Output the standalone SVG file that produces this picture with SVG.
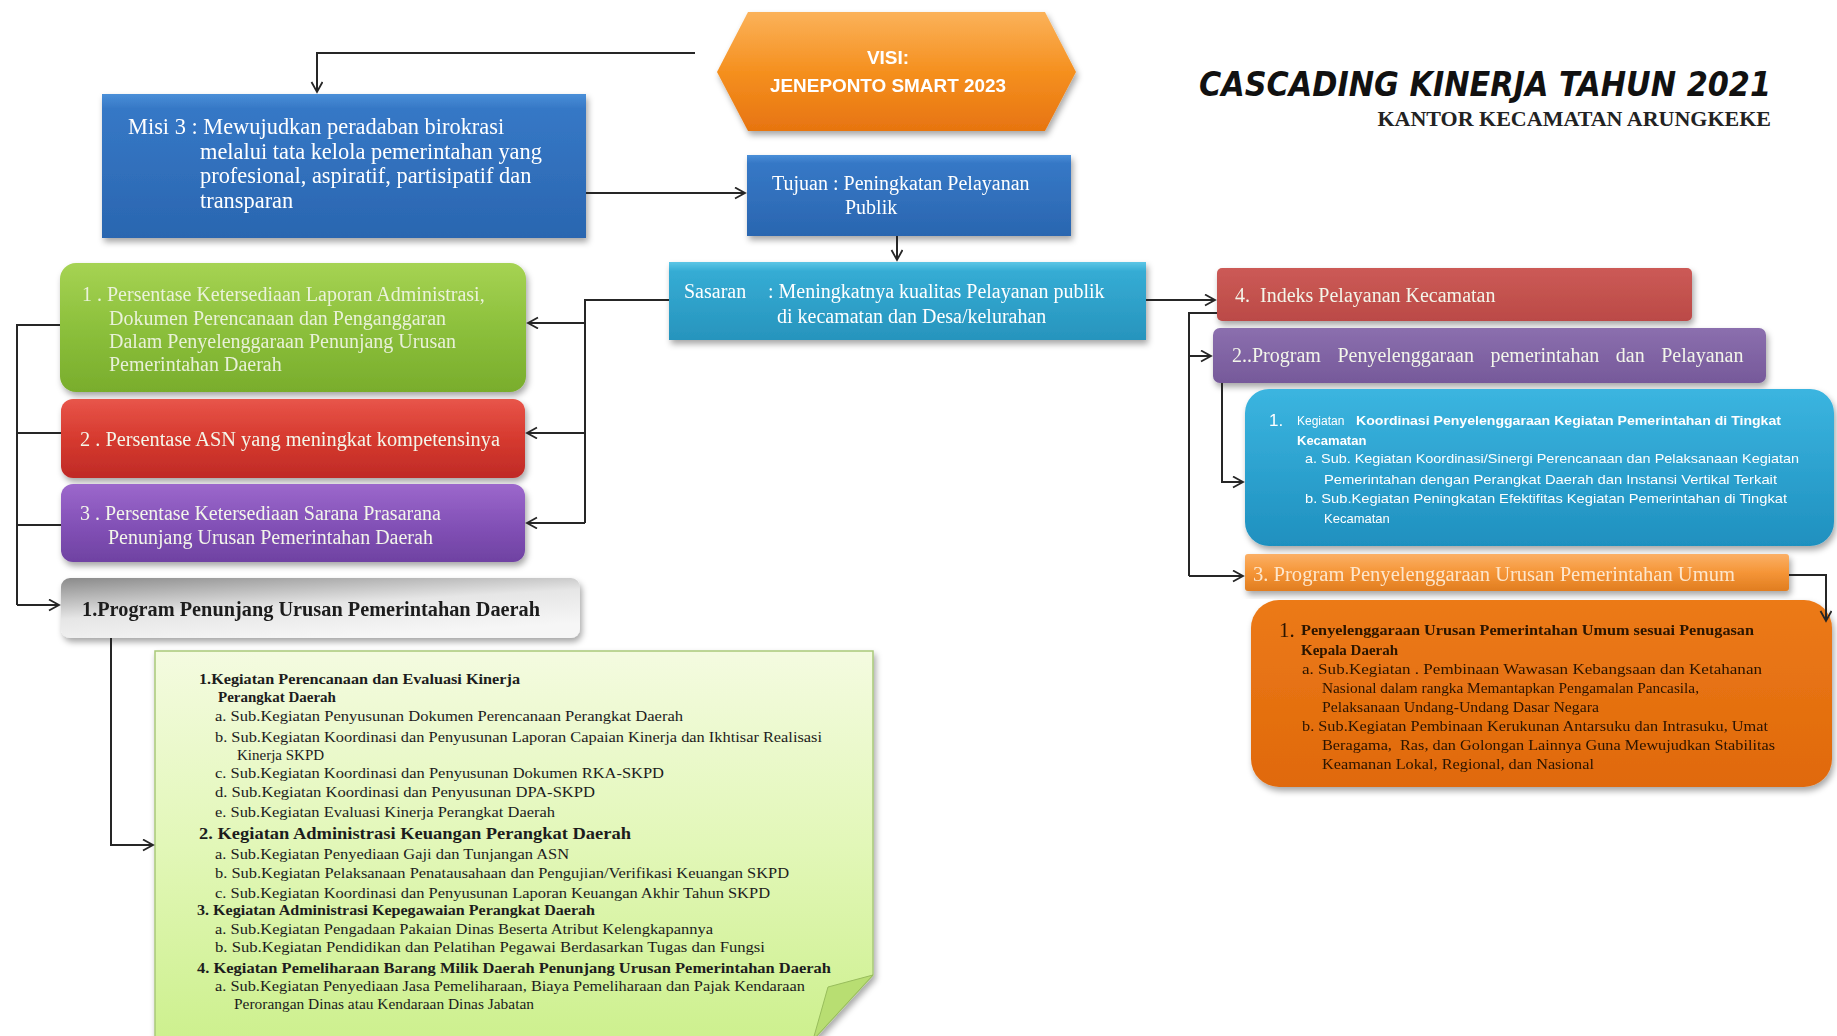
<svg xmlns="http://www.w3.org/2000/svg" width="1837" height="1036" viewBox="0 0 1837 1036">
<style>
.serif{font-family:"Liberation Serif","Times New Roman",serif}
.sans{font-family:"Liberation Sans",Arial,sans-serif}
.wt{fill:#ffffff}
.lt{fill:#f3f6ea}
.dk{fill:#1c1c1c}
.dkb{fill:#2a1300}
.conn{fill:none;stroke:#262626;stroke-width:2}
.f20{font-size:20px}
.f15{font-size:15px}
.b{font-weight:bold}
</style>
<defs>
<filter id="sh" x="-10%" y="-10%" width="120%" height="130%">
<feDropShadow dx="2" dy="4" stdDeviation="3" flood-color="#000" flood-opacity="0.35"/>
</filter>
<marker id="ar" markerUnits="userSpaceOnUse" markerWidth="14" markerHeight="14" refX="11" refY="6" orient="auto">
<path d="M1,0.5 L11,6 L1,11.5" fill="none" stroke="#262626" stroke-width="1.8"/>
</marker>
<linearGradient id="gOr" x1="0" y1="0" x2="0" y2="1"><stop offset="0" stop-color="#fbb25a"/><stop offset="0.5" stop-color="#f5901f"/><stop offset="1" stop-color="#e77410"/></linearGradient>
<linearGradient id="gBl" x1="0" y1="0" x2="0" y2="1"><stop offset="0" stop-color="#4a8fd8"/><stop offset="0.1" stop-color="#3678c6"/><stop offset="1" stop-color="#2a66b0"/></linearGradient>
<linearGradient id="gCy" x1="0" y1="0" x2="0" y2="1"><stop offset="0" stop-color="#5cc6e6"/><stop offset="0.12" stop-color="#35acd4"/><stop offset="1" stop-color="#2794bd"/></linearGradient>
<linearGradient id="gGr" x1="0" y1="0" x2="0" y2="1"><stop offset="0" stop-color="#a6d353"/><stop offset="0.5" stop-color="#8cc03c"/><stop offset="1" stop-color="#79ad2c"/></linearGradient>
<linearGradient id="gRd" x1="0" y1="0" x2="0" y2="1"><stop offset="0" stop-color="#e8554a"/><stop offset="0.5" stop-color="#d63a2f"/><stop offset="1" stop-color="#bf2a26"/></linearGradient>
<linearGradient id="gPu" x1="0" y1="0" x2="0" y2="1"><stop offset="0" stop-color="#9c68cc"/><stop offset="0.5" stop-color="#8452b8"/><stop offset="1" stop-color="#6f42a2"/></linearGradient>
<linearGradient id="gGy" x1="0" y1="0" x2="0.5" y2="1"><stop offset="0" stop-color="#8a8a8a"/><stop offset="0.55" stop-color="#e6e6e6"/><stop offset="1" stop-color="#f6f6f6"/></linearGradient>
<linearGradient id="gRd2" x1="0" y1="0" x2="0" y2="1"><stop offset="0" stop-color="#cc5a56"/><stop offset="1" stop-color="#bb4a47"/></linearGradient>
<linearGradient id="gPu2" x1="0" y1="0" x2="0" y2="1"><stop offset="0" stop-color="#8b6fae"/><stop offset="1" stop-color="#76599a"/></linearGradient>
<linearGradient id="gCy2" x1="0" y1="0" x2="0" y2="1"><stop offset="0" stop-color="#3bb5e0"/><stop offset="1" stop-color="#1f90bf"/></linearGradient>
<linearGradient id="gOb" x1="0" y1="0" x2="0" y2="1"><stop offset="0" stop-color="#fbb066"/><stop offset="0.5" stop-color="#f59537"/><stop offset="1" stop-color="#e07d20"/></linearGradient>
<linearGradient id="gOx" x1="0" y1="0" x2="0" y2="1"><stop offset="0" stop-color="#ec7a18"/><stop offset="1" stop-color="#e0690b"/></linearGradient>
<linearGradient id="gNt" x1="0" y1="0" x2="0" y2="1"><stop offset="0" stop-color="#f4fbe0"/><stop offset="0.5" stop-color="#e2f7b8"/><stop offset="1" stop-color="#cdf08e"/></linearGradient>
</defs>

<rect x="0" y="0" width="1837" height="1036" fill="#ffffff"/>

<g id="title">
<text x="1199" y="96" font-family="'DejaVu Sans',sans-serif" font-size="34" font-weight="bold" font-style="italic" fill="#111" textLength="572" lengthAdjust="spacingAndGlyphs">CASCADING KINERJA TAHUN 2021</text>
<text x="1771" y="126" class="serif b" font-size="22" fill="#222" text-anchor="end">KANTOR KECAMATAN ARUNGKEKE</text>
</g>

<g id="visi" filter="url(#sh)">
<polygon points="717,72 748,12 1045,12 1076,72 1045,131 748,131" fill="url(#gOr)"/>
<text x="888" y="64" class="sans b wt" font-size="19" text-anchor="middle">VISI:</text>
<text x="888" y="92" class="sans b wt" font-size="19" text-anchor="middle" textLength="236" lengthAdjust="spacingAndGlyphs">JENEPONTO SMART 2023</text>
</g>

<g id="misi" filter="url(#sh)">
<rect x="102" y="94" width="484" height="144" fill="url(#gBl)"/>
<text class="serif wt" font-size="22.4"><tspan x="128" y="134">Misi 3 : Mewujudkan peradaban birokrasi</tspan><tspan x="200" y="159">melalui tata kelola pemerintahan yang</tspan><tspan x="200" y="183">profesional, aspiratif, partisipatif dan</tspan><tspan x="200" y="208">transparan</tspan></text>
</g>

<g id="tujuan" filter="url(#sh)">
<rect x="747" y="155" width="324" height="81" fill="url(#gBl)"/>
<text class="serif wt f20"><tspan x="772" y="190">Tujuan : Peningkatan Pelayanan</tspan><tspan x="845" y="214">Publik</tspan></text>
</g>

<g id="sasaran" filter="url(#sh)">
<rect x="669" y="262" width="477" height="78" fill="url(#gCy)"/>
<text class="serif wt f20"><tspan x="684" y="298">Sasaran</tspan><tspan x="768" y="298">: Meningkatnya kualitas Pelayanan publik</tspan><tspan x="777" y="323">di kecamatan dan Desa/kelurahan</tspan></text>
</g>

<g id="ind1" filter="url(#sh)">
<rect x="60" y="263" width="466" height="129" rx="16" fill="url(#gGr)"/>
<text class="serif lt f20" fill-opacity="0.9"><tspan x="82" y="301">1 . Persentase Ketersediaan Laporan Administrasi,</tspan><tspan x="109" y="325">Dokumen Perencanaan dan Penganggaran</tspan><tspan x="109" y="348">Dalam Penyelenggaraan Penunjang Urusan</tspan><tspan x="109" y="371">Pemerintahan Daerah</tspan></text>
</g>

<g id="ind2" filter="url(#sh)">
<rect x="61" y="399" width="464" height="79" rx="12" fill="url(#gRd)"/>
<text x="80" y="446" class="serif lt f20" textLength="420" lengthAdjust="spacingAndGlyphs">2 . Persentase ASN yang meningkat kompetensinya</text>
</g>

<g id="ind3" filter="url(#sh)">
<rect x="61" y="484" width="464" height="78" rx="12" fill="url(#gPu)"/>
<text class="serif lt f20"><tspan x="80" y="520">3 . Persentase Ketersediaan Sarana Prasarana</tspan><tspan x="108" y="544">Penunjang Urusan Pemerintahan Daerah</tspan></text>
</g>

<g id="prog1" filter="url(#sh)">
<rect x="61" y="578" width="519" height="60" rx="9" fill="url(#gGy)"/>
<text x="82" y="616" class="serif b dk f20" textLength="458" lengthAdjust="spacingAndGlyphs">1.Program Penunjang Urusan Pemerintahan Daerah</text>
</g>

<g id="note">
<polygon points="155,651 873,651 873,975 813,1040 155,1040" fill="url(#gNt)" stroke="#a9c97a" stroke-width="1.5" filter="url(#sh)"/>
<polygon points="873,975 813,1040 828,987" fill="#b8de72" stroke="#98bd5c" stroke-width="1"/>
<g class="serif dk f15">
<text x="199" y="684" class="b" textLength="321" lengthAdjust="spacingAndGlyphs">1.Kegiatan Perencanaan dan Evaluasi Kinerja</text>
<text x="218" y="702" class="b">Perangkat Daerah</text>
<text x="215" y="721" textLength="468" lengthAdjust="spacingAndGlyphs">a. Sub.Kegiatan Penyusunan Dokumen Perencanaan Perangkat Daerah</text>
<text x="215" y="742" textLength="607" lengthAdjust="spacingAndGlyphs">b. Sub.Kegiatan Koordinasi dan Penyusunan Laporan Capaian Kinerja dan Ikhtisar Realisasi</text>
<text x="237" y="760">Kinerja SKPD</text>
<text x="215" y="778" textLength="449" lengthAdjust="spacingAndGlyphs">c. Sub.Kegiatan Koordinasi dan Penyusunan Dokumen RKA-SKPD</text>
<text x="215" y="797" textLength="380" lengthAdjust="spacingAndGlyphs">d. Sub.Kegiatan Koordinasi dan Penyusunan DPA-SKPD</text>
<text x="215" y="817" textLength="340" lengthAdjust="spacingAndGlyphs">e. Sub.Kegiatan Evaluasi Kinerja Perangkat Daerah</text>
<text x="199" y="839" class="b" font-size="17" textLength="432" lengthAdjust="spacingAndGlyphs">2.  Kegiatan Administrasi Keuangan Perangkat Daerah</text>
<text x="215" y="859" textLength="354" lengthAdjust="spacingAndGlyphs">a. Sub.Kegiatan Penyediaan Gaji dan Tunjangan ASN</text>
<text x="215" y="878" textLength="574" lengthAdjust="spacingAndGlyphs">b. Sub.Kegiatan Pelaksanaan Penatausahaan dan Pengujian/Verifikasi Keuangan SKPD</text>
<text x="215" y="898" textLength="555" lengthAdjust="spacingAndGlyphs">c. Sub.Kegiatan Koordinasi dan Penyusunan Laporan Keuangan Akhir Tahun SKPD</text>
<text x="197" y="915" class="b" textLength="398" lengthAdjust="spacingAndGlyphs">3. Kegiatan Administrasi Kepegawaian Perangkat Daerah</text>
<text x="215" y="934" textLength="498" lengthAdjust="spacingAndGlyphs">a. Sub.Kegiatan Pengadaan Pakaian Dinas Beserta Atribut Kelengkapannya</text>
<text x="215" y="952" textLength="550" lengthAdjust="spacingAndGlyphs">b. Sub.Kegiatan Pendidikan dan Pelatihan Pegawai Berdasarkan Tugas dan Fungsi</text>
<text x="197" y="973" class="b" textLength="634" lengthAdjust="spacingAndGlyphs">4.  Kegiatan Pemeliharaan Barang Milik Daerah Penunjang Urusan Pemerintahan Daerah</text>
<text x="215" y="991" textLength="590" lengthAdjust="spacingAndGlyphs">a. Sub.Kegiatan Penyediaan Jasa Pemeliharaan, Biaya Pemeliharaan dan Pajak Kendaraan</text>
<text x="234" y="1009" textLength="300" lengthAdjust="spacingAndGlyphs">Perorangan Dinas atau Kendaraan Dinas Jabatan</text>
</g>
</g>

<g id="ind4" filter="url(#sh)">
<rect x="1217" y="268" width="475" height="53" rx="5" fill="url(#gRd2)"/>
<text x="1235" y="302" class="serif lt f20" xml:space="preserve">4.  Indeks Pelayanan Kecamatan</text>
</g>

<g id="prog2" filter="url(#sh)">
<rect x="1213" y="328" width="553" height="55" rx="7" fill="url(#gPu2)"/>
<text x="1232" y="362" class="serif lt f20" word-spacing="11.5">2..Program Penyelenggaraan pemerintahan dan Pelayanan</text>
</g>

<g id="keg2" filter="url(#sh)">
<rect x="1245" y="389" width="589" height="157" rx="24" fill="url(#gCy2)"/>
<g class="sans wt">
<text x="1269" y="426" font-size="17">1.</text>
<text x="1297" y="425" font-size="12">Kegiatan</text>
<text x="1356" y="425" font-size="13" class="b" textLength="425" lengthAdjust="spacingAndGlyphs">Koordinasi Penyelenggaraan Kegiatan Pemerintahan di Tingkat</text>
<text x="1297" y="445" font-size="13" class="b">Kecamatan</text>
<text x="1305" y="463" font-size="13" textLength="494" lengthAdjust="spacingAndGlyphs">a. Sub. Kegiatan Koordinasi/Sinergi Perencanaan dan Pelaksanaan Kegiatan</text>
<text x="1324" y="484" font-size="13" textLength="453" lengthAdjust="spacingAndGlyphs">Pemerintahan dengan Perangkat Daerah dan Instansi Vertikal Terkait</text>
<text x="1305" y="503" font-size="13" textLength="482" lengthAdjust="spacingAndGlyphs">b. Sub.Kegiatan Peningkatan Efektifitas Kegiatan Pemerintahan di Tingkat</text>
<text x="1324" y="523" font-size="13">Kecamatan</text>
</g>
</g>

<g id="prog3" filter="url(#sh)">
<rect x="1245" y="554" width="544" height="37" rx="3" fill="url(#gOb)"/>
<text x="1253" y="581" class="serif f20" fill="#fde6cc" textLength="482" lengthAdjust="spacingAndGlyphs">3. Program Penyelenggaraan Urusan Pemerintahan Umum</text>
</g>

<g id="keg3" filter="url(#sh)">
<rect x="1251" y="600" width="581" height="187" rx="28" fill="url(#gOx)"/>
<g class="serif dkb f15">
<text x="1279" y="637" font-size="21">1.</text>
<text x="1301" y="635" class="b" textLength="453" lengthAdjust="spacingAndGlyphs">Penyelenggaraan Urusan Pemerintahan Umum sesuai Penugasan</text>
<text x="1301" y="655" class="b">Kepala Daerah</text>
<text x="1302" y="674" textLength="460" lengthAdjust="spacingAndGlyphs">a. Sub.Kegiatan . Pembinaan Wawasan Kebangsaan dan Ketahanan</text>
<text x="1322" y="693" textLength="377" lengthAdjust="spacingAndGlyphs">Nasional dalam rangka Memantapkan Pengamalan Pancasila,</text>
<text x="1322" y="712" textLength="277" lengthAdjust="spacingAndGlyphs">Pelaksanaan Undang-Undang Dasar Negara</text>
<text x="1302" y="731" textLength="466" lengthAdjust="spacingAndGlyphs">b. Sub.Kegiatan Pembinaan Kerukunan Antarsuku dan Intrasuku, Umat</text>
<text x="1322" y="750" textLength="453" lengthAdjust="spacingAndGlyphs" xml:space="preserve">Beragama,  Ras, dan Golongan Lainnya Guna Mewujudkan Stabilitas</text>
<text x="1322" y="769" textLength="272" lengthAdjust="spacingAndGlyphs">Keamanan Lokal, Regional, dan Nasional</text>
</g>
</g>

<g id="connectors">
<path class="conn" d="M695,53 H317 V92" marker-end="url(#ar)" stroke-width="2.4"/>
<path class="conn" d="M586,193 H745" marker-end="url(#ar)"/>
<path class="conn" d="M897,236 V260" marker-end="url(#ar)"/>
<path class="conn" d="M669,300 H585 V523"/>
<path class="conn" d="M585,323 H528" marker-end="url(#ar)"/>
<path class="conn" d="M585,433 H527" marker-end="url(#ar)"/>
<path class="conn" d="M585,523 H527" marker-end="url(#ar)"/>
<path class="conn" d="M60,325 H17 V605"/>
<path class="conn" d="M61,433 H17"/>
<path class="conn" d="M61,525 H17"/>
<path class="conn" d="M17,605 H59" marker-end="url(#ar)"/>
<path class="conn" d="M111,638 V845 H153" marker-end="url(#ar)"/>
<path class="conn" d="M1146,300 H1215" marker-end="url(#ar)"/>
<path class="conn" d="M1217,313 H1189 V576"/>
<path class="conn" d="M1189,356 H1211" marker-end="url(#ar)"/>
<path class="conn" d="M1189,576 H1243" marker-end="url(#ar)"/>
<path class="conn" d="M1222,383 V482 H1243" marker-end="url(#ar)"/>
<path class="conn" d="M1789,575 H1826 V621" marker-end="url(#ar)"/>
</g>
</svg>
